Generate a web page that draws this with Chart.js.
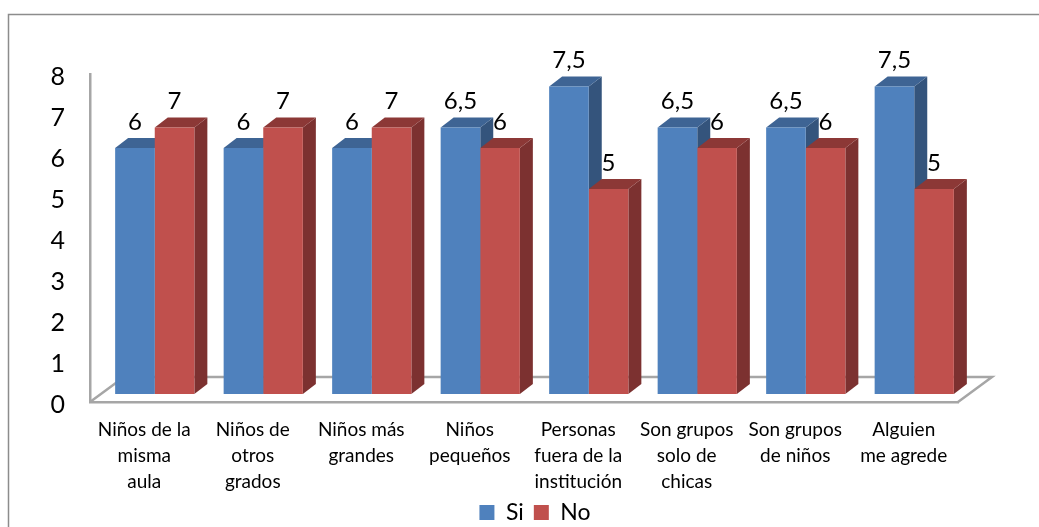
<!DOCTYPE html>
<html>
<head>
<meta charset="utf-8">
<style>
  html, body { margin: 0; padding: 0; background: #fff; }
  #wrap { position: relative; width: 1039px; height: 527px; }
</style>
<script src="https://cdn.jsdelivr.net/npm/chart.js@4"></script>
</head>
<body>
<div id="wrap"><canvas id="chart"></canvas></div>
<script>
// Data
const categories = [
    ['Niños de la', 'misma', 'aula'],
    ['Niños de', 'otros', 'grados'],
    ['Niños más', 'grandes'],
    ['Niños', 'pequeños'],
    ['Personas', 'fuera de la', 'institución'],
    ['Son grupos', 'solo de', 'chicas'],
    ['Son grupos', 'de niños'],
    ['Alguien', 'me agrede']
];
const siValues = [6, 6, 6, 6.5, 7.5, 6.5, 6.5, 7.5];
const noValues = [6.5, 6.5, 6.5, 6, 5, 6, 6, 5];
// The printed labels do not always agree with the bar heights in the original
const siLabels = ['6', '6', '6', '6,5', '7,5', '6,5', '6,5', '7,5'];
const noLabels = ['7', '7', '7', '6', '5', '6', '6', '5'];
const yTicks = [0, 1, 2, 3, 4, 5, 6, 7, 8];

const FONT = 'Lato, Carlito, "Open Sans", sans-serif';
const AXIS_GREY = '#a6a6a6';

// Depth of the fake 3D look
const plane = {dx: 10.5, dy: -8};      // bars sit this far behind the front edge
const barDepth = {dx: 13, dy: -10};
const floorDepth = {dx: 34, dy: -25};

const faceColors = [
    {side: '#34547c', top: '#3e6494'},
    {side: '#7c3130', top: '#8c3836'}
];
const textOf = [siLabels, noLabels];

const poly = function(ctx, pts, color){
    ctx.fillStyle = color;
    ctx.beginPath();
    pts.forEach(function(p, i){
        if(i === 0) ctx.moveTo(p[0], p[1]);
        else ctx.lineTo(p[0], p[1]);
    });
    ctx.closePath();
    ctx.fill();
};

const depthPlugin = {
    id: 'depth',
    // The legend is centred under the whole picture, not under the plot
    afterLayout: function(chart){
        chart.legend.right += 112;
    },
    // Frame round the chart and the floor
    beforeDraw: function(chart){
        const ctx = chart.ctx;
        const area = chart.chartArea;
        ctx.save();
        ctx.strokeStyle = '#8c8c8c';
        ctx.lineWidth = 1.5;
        ctx.beginPath();
        ctx.moveTo(8.5, 527);
        ctx.lineTo(8.5, 14.5);
        ctx.lineTo(1039, 14.5);
        ctx.stroke();

        const y0 = chart.scales.y.getPixelForValue(0);
        ctx.strokeStyle = AXIS_GREY;
        ctx.lineWidth = 2.5;
        ctx.beginPath();
        ctx.moveTo(area.left, y0);
        ctx.lineTo(area.left + floorDepth.dx, y0 + floorDepth.dy);
        ctx.lineTo(area.right + floorDepth.dx, y0 + floorDepth.dy);
        ctx.lineTo(area.right, y0);
        ctx.stroke();
        ctx.restore();
    },
    // All bars move back into their own plane, side and top faces go first.
    // Si before No, so the red front covers the blue side.
    beforeDatasetsDraw: function(chart){
        const ctx = chart.ctx;
        const d = barDepth;
        ctx.save();
        ctx.translate(plane.dx, plane.dy);
        faceColors.forEach(function(colors, i){
            chart.getDatasetMeta(i).data.forEach(function(bar){
                const l = bar.x - bar.width / 2;
                const r = bar.x + bar.width / 2;
                poly(ctx, [[r, bar.y], [r + d.dx, bar.y + d.dy], [r + d.dx, bar.base + d.dy], [r, bar.base]], colors.side);
                poly(ctx, [[l, bar.y], [l + d.dx, bar.y + d.dy], [r + d.dx, bar.y + d.dy], [r, bar.y]], colors.top);
            });
        });
    },
    afterDatasetsDraw: function(chart){
        const ctx = chart.ctx;
        ctx.fillStyle = '#000';
        ctx.font = '24px ' + FONT;
        ctx.textAlign = 'center';
        ctx.textBaseline = 'middle';
        // still translated here
        chart.data.datasets.forEach(function(ds, i){
            chart.getDatasetMeta(i).data.forEach(function(bar, j){
                ctx.fillText(textOf[i][j], bar.x, bar.y - 26);
            });
        });
        ctx.restore();
    }
};

const chart = new Chart(document.getElementById('chart'), {
    type: 'bar',
    data: {
        labels: categories,
        datasets: [
            {label: 'Si', data: siValues, backgroundColor: '#4f81bd', clip: false},
            {label: 'No', data: noValues, backgroundColor: '#c0504d', clip: false}
        ]
    },
    options: {
        responsive: true,
        maintainAspectRatio: false,
        animation: false,
        layout: {padding: {top: 74, right: 81, bottom: -7, left: 0}},
        datasets: {bar: {categoryPercentage: 0.73, barPercentage: 1}},
        plugins: {
            tooltip: {enabled: false},
            legend: {
                position: 'bottom',
                labels: {
                    color: '#000',
                    font: {family: FONT, size: 23},
                    boxWidth: 15,
                    boxHeight: 15,
                    padding: 10
                }
            }
        },
        scales: {
            x: {
                grid: {display: false, drawTicks: false},
                border: {color: AXIS_GREY, width: 2.5},
                ticks: {
                    color: '#000',
                    font: {family: FONT, size: 19, lineHeight: '26px'},
                    padding: 15,
                    maxRotation: 0,
                    autoSkip: false
                },
                afterFit: function(scale){ scale.height = 89; }
            },
            y: {
                min: 0,
                max: 8,
                grid: {display: false, drawTicks: false},
                border: {color: AXIS_GREY, width: 2.5},
                afterBuildTicks: function(scale){
                    scale.ticks = yTicks.map(function(v){ return {value: v}; });
                },
                ticks: {
                    color: '#000',
                    font: {family: FONT, size: 25},
                    padding: 25,
                    labelOffset: 3
                },
                afterFit: function(scale){ scale.width = 90; }
            }
        }
    },
    plugins: [depthPlugin]
});
</script>
</body>
</html>
